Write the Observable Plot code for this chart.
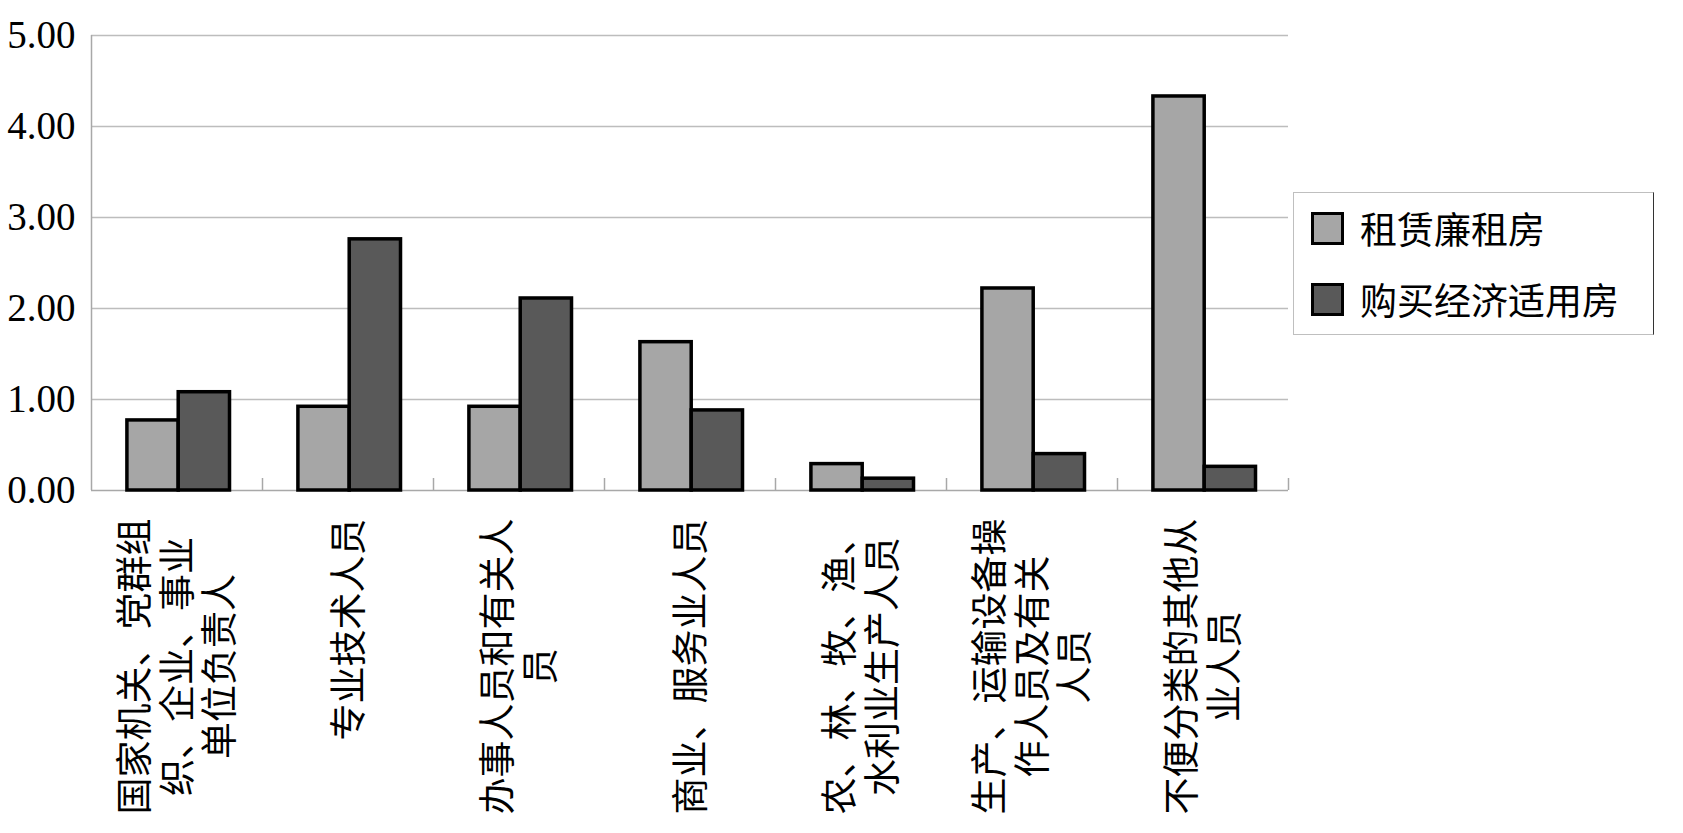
<!DOCTYPE html>
<html>
<head>
<meta charset="utf-8">
<script src="https://cdn.jsdelivr.net/npm/d3@7"></script>
<script src="https://cdn.jsdelivr.net/npm/@observablehq/plot@0.6"></script>
<style>
  html, body { margin: 0; padding: 0; background: #fff; }
  #wrap { position: relative; width: 1683px; height: 833px; }
  #legend {
    position: absolute; left: 1293px; top: 192px; width: 361px; height: 143px;
    box-sizing: border-box; border: 1px solid #bfbfbf; border-right-color: #333; background: #fff;
    font-family: "Noto Sans CJK SC", sans-serif; font-size: 37px; color: #000;
  }
  .item { position: absolute; left: 17px; height: 33px; display: flex; align-items: center; }
  .sw { width: 33px; height: 33px; box-sizing: border-box; border: 3.5px solid #000; }
  .lb { margin-left: 16px; line-height: 1; white-space: nowrap; }
</style>
</head>
<body>
<div id="wrap"></div>
<script>
// ---- data ----
const categoryLines = [
  ["国家机关、党群组", "织、企业、事业", "单位负责人"],
  ["专业技术人员"],
  ["办事人员和有关人", "员"],
  ["商业、服务业人员"],
  ["农、林、牧、渔、", "水利业生产人员"],
  ["生产、运输设备操", "作人员及有关", "人员"],
  ["不便分类的其他从", "业人员"]
];
const seriesNames = ["租赁廉租房", "购买经济适用房"];
const rentValues = [0.77, 0.92, 0.92, 1.63, 0.29, 2.22, 4.33];
const buyValues  = [1.08, 2.76, 2.11, 0.88, 0.13, 0.40, 0.26];
const yTicks = [0, 1, 2, 3, 4, 5];
const seriesColors = ["#a6a6a6", "#595959"];

// ---- build table ----
const seriesValues = [rentValues, buyValues];
const bars = [];
categoryLines.forEach((lines, i) => {
  seriesNames.forEach((s, k) => bars.push({i, k, s, v: seriesValues[k][i]}));
});

const groupStart = 0.21;  // fraction of category step before first bar
const barWidth = 0.30;    // fraction of category step per bar
const fs = 37;
const labelGap = 28;

const labelMarks = categoryLines.map((lines, i) => {
  const maxLen = d3.max(lines, l => l.length);
  return Plot.text([{i, label: lines.join("\n")}], {
    x: d => d.i + 0.5,
    text: "label",
    frameAnchor: "bottom",
    rotate: -90,
    textAnchor: "middle",
    lineAnchor: "middle",
    lineHeight: 1.15,
    fontSize: fs,
    fill: "#000",
    dy: labelGap + maxLen * fs / 2
  });
});

const chart = Plot.plot({
  width: 1683,
  height: 833,
  marginLeft: 91,
  marginRight: 395,
  marginTop: 35,
  marginBottom: 343,
  style: {fontFamily: '"Liberation Serif", "Noto Sans CJK SC", serif', fontSize: "37px", color: "#000", background: "#fff"},
  x: {domain: [0, categoryLines.length], axis: null},
  y: {domain: [0, 5], axis: null},
  color: {domain: seriesNames, range: seriesColors},
  marks: [
    Plot.gridY({ticks: yTicks.slice(1), stroke: "#bdbdbd", strokeOpacity: 1, strokeWidth: 1.5}),
    Plot.ruleY([0], {stroke: "#a8a8a8", strokeWidth: 1.5}),
    Plot.ruleX([0], {stroke: "#a8a8a8", strokeWidth: 1.5}),
    Plot.ruleX(d3.range(1, categoryLines.length + 1), {x: d => d, y1: 0, y2: 0, insetTop: -12, stroke: "#a8a8a8", strokeWidth: 1.5}),
    Plot.rectY(bars, {
      x1: d => d.i + groupStart + d.k * barWidth,
      x2: d => d.i + groupStart + (d.k + 1) * barWidth,
      y1: 0,
      y2: "v",
      fill: "s",
      stroke: "#000",
      strokeWidth: 3.5
    }),
    Plot.axisY({ticks: yTicks, tickFormat: d3.format(".2f"), tickSize: 0, tickPadding: 16, fontSize: 39, label: null}),
    ...labelMarks
  ]
});

const wrap = document.getElementById("wrap");
wrap.appendChild(chart);

// legend
const legend = document.createElement("div");
legend.id = "legend";
seriesNames.forEach((s, k) => {
  const item = document.createElement("div");
  item.className = "item";
  item.style.top = (19 + k * 71) + "px";
  const sw = document.createElement("div");
  sw.className = "sw";
  sw.style.background = seriesColors[k];
  const lb = document.createElement("span");
  lb.className = "lb";
  lb.textContent = s;
  item.appendChild(sw);
  item.appendChild(lb);
  legend.appendChild(item);
});
wrap.appendChild(legend);
</script>
</body>
</html>
